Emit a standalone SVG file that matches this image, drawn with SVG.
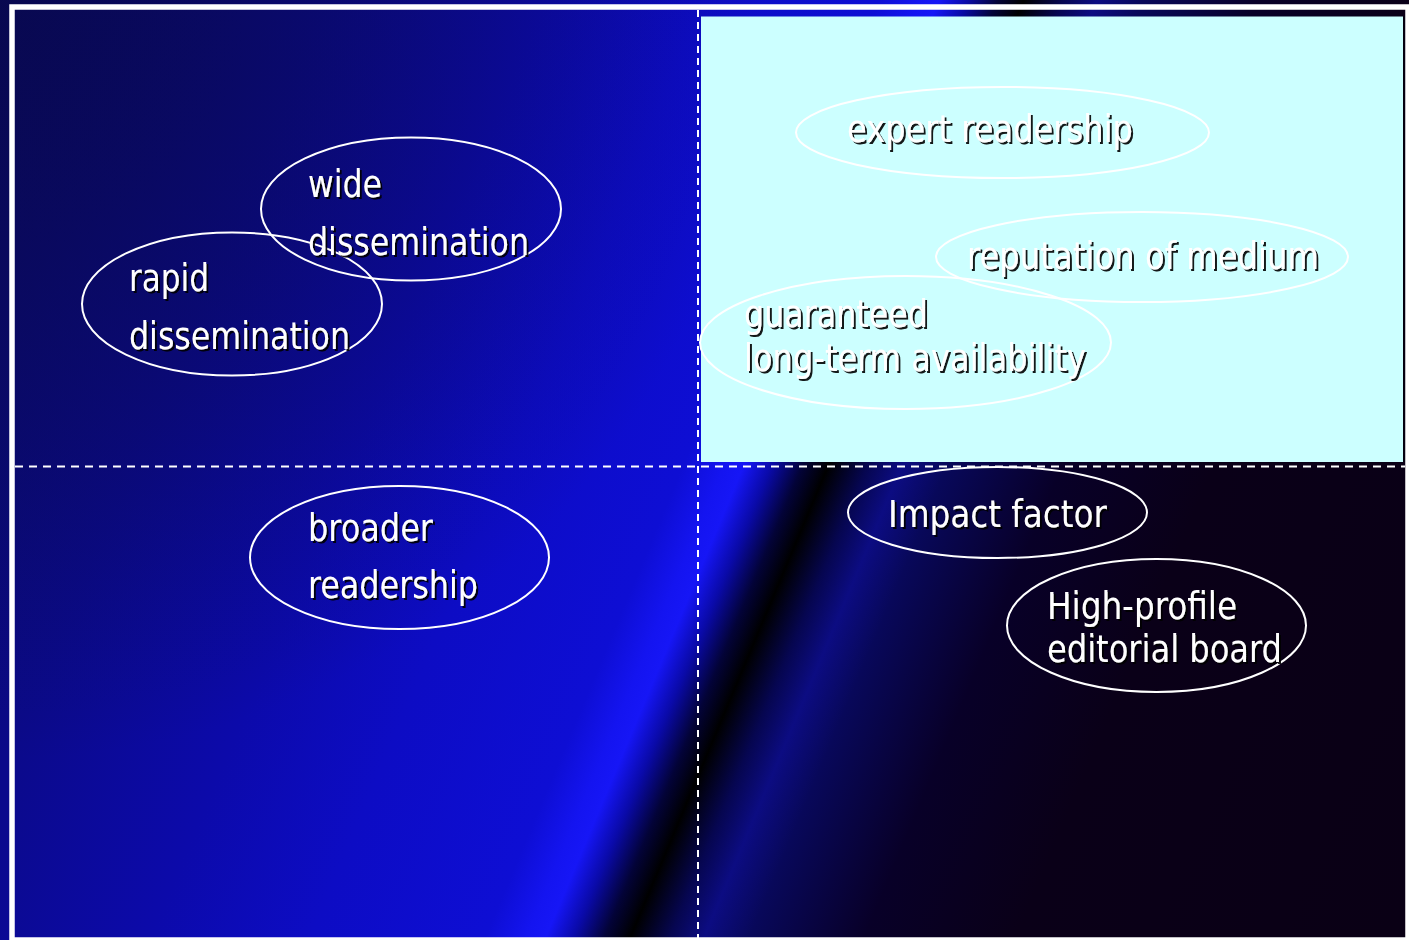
<svg xmlns="http://www.w3.org/2000/svg" width="1409" height="940" viewBox="0 0 1409 940">
  <defs>
    <linearGradient id="bg" gradientUnits="userSpaceOnUse" x1="0" y1="0" x2="1844" y2="774">
      <stop offset="0" stop-color="#0a0a62"/>
      <stop offset="0.15" stop-color="#0b0a8a"/>
      <stop offset="0.25" stop-color="#0c0aaa"/>
      <stop offset="0.325" stop-color="#0d0cc4"/>
      <stop offset="0.405" stop-color="#0e0ed4"/>
      <stop offset="0.424" stop-color="#1414f0"/>
      <stop offset="0.433" stop-color="#1616f6"/>
      <stop offset="0.446" stop-color="#0a0aa8"/>
      <stop offset="0.46" stop-color="#030338"/>
      <stop offset="0.472" stop-color="#000000"/>
      <stop offset="0.49" stop-color="#060650"/>
      <stop offset="0.506" stop-color="#0c0c82"/>
      <stop offset="0.527" stop-color="#08085a"/>
      <stop offset="0.58" stop-color="#080028"/>
      <stop offset="0.65" stop-color="#0a0018"/>
      <stop offset="1" stop-color="#0a0012"/>
    </linearGradient>
    <radialGradient id="tl" gradientUnits="userSpaceOnUse" cx="0" cy="0" r="760">
      <stop offset="0" stop-color="#08084a" stop-opacity="0.75"/>
      <stop offset="0.6" stop-color="#08084a" stop-opacity="0.3"/>
      <stop offset="1" stop-color="#08084a" stop-opacity="0"/>
    </radialGradient>
    <filter id="shadow" x="-5%" y="-30%" width="115%" height="160%">
      <feDropShadow dx="2" dy="2" stdDeviation="0.4" flood-color="#000000" flood-opacity="0.9"/>
    </filter>
    <style>
      .node ellipse { fill: none; stroke: #ffffff; stroke-width: 2; }
      .node text { font-family: "DejaVu Sans Condensed", "DejaVu Sans", sans-serif; font-size: 37px; fill: #ffffff; filter: url(#shadow); }
      .hdash { stroke: #ffffff; stroke-width: 2; stroke-dasharray: 8 6; fill: none; }
      .vdash { stroke: #ffffff; stroke-width: 2; stroke-dasharray: 7 5; fill: none; }
    </style>
  </defs>

  <g id="background">
    <rect x="0" y="0" width="1409" height="940" fill="url(#bg)"/>
    <rect x="0" y="0" width="1409" height="940" fill="url(#tl)"/>
    <rect x="12" y="7" width="1396" height="933" fill="none" stroke="#ffffff" stroke-width="5.5"/>
    <rect id="quadrant-panel" x="701" y="16.5" width="702" height="445.5" fill="#ccffff"/>
    <line x1="1404" y1="16.5" x2="1404" y2="462" stroke="#050010" stroke-width="2"/>
  </g>

  <g id="quadrant-lines">
    <line class="hdash" x1="15" y1="466.5" x2="1405" y2="466.5"/>
    <line class="vdash" x1="698" y1="10" x2="698" y2="940"/>
  </g>

  <g id="connectors"/>

  <g id="node-rapid-dissemination" class="node">
    <ellipse cx="232" cy="304" rx="150" ry="71.5"/>
    <text x="129" y="291" textLength="80" lengthAdjust="spacingAndGlyphs">rapid</text>
    <text x="129" y="349" textLength="221" lengthAdjust="spacingAndGlyphs">dissemination</text>
  </g>

  <g id="node-wide-dissemination" class="node">
    <ellipse cx="411" cy="209" rx="150" ry="71.5"/>
    <text x="308" y="197" textLength="74" lengthAdjust="spacingAndGlyphs">wide</text>
    <text x="308" y="255" textLength="221" lengthAdjust="spacingAndGlyphs">dissemination</text>
  </g>

  <g id="node-broader-readership" class="node">
    <ellipse cx="399.5" cy="557.5" rx="149.5" ry="71.5"/>
    <text x="308" y="541" textLength="125" lengthAdjust="spacingAndGlyphs">broader</text>
    <text x="308" y="598" textLength="170" lengthAdjust="spacingAndGlyphs">readership</text>
  </g>

  <g id="node-expert-readership" class="node">
    <ellipse cx="1002.5" cy="132.5" rx="206.5" ry="45.5"/>
    <text x="847" y="142" textLength="286" lengthAdjust="spacingAndGlyphs">expert readership</text>
  </g>

  <g id="node-reputation-of-medium" class="node">
    <ellipse cx="1142" cy="257" rx="206" ry="45"/>
    <text x="967" y="269" textLength="352" lengthAdjust="spacingAndGlyphs">reputation of medium</text>
  </g>

  <g id="node-long-term-availability" class="node">
    <ellipse cx="905.5" cy="342.5" rx="205.5" ry="66.5"/>
    <text x="744" y="327" textLength="184" lengthAdjust="spacingAndGlyphs">guaranteed</text>
    <text x="744" y="371" textLength="342" lengthAdjust="spacingAndGlyphs">long-term availability</text>
  </g>

  <g id="node-impact-factor" class="node">
    <ellipse cx="997.5" cy="512.5" rx="149.5" ry="45.5"/>
    <text x="888" y="527" textLength="219" lengthAdjust="spacingAndGlyphs">Impact factor</text>
  </g>

  <g id="node-editorial-board" class="node">
    <ellipse cx="1156.5" cy="625.5" rx="149.5" ry="66.5"/>
    <text x="1047" y="619" textLength="190" lengthAdjust="spacingAndGlyphs">High-profile</text>
    <text x="1047" y="662" textLength="235" lengthAdjust="spacingAndGlyphs">editorial board</text>
  </g>
</svg>
